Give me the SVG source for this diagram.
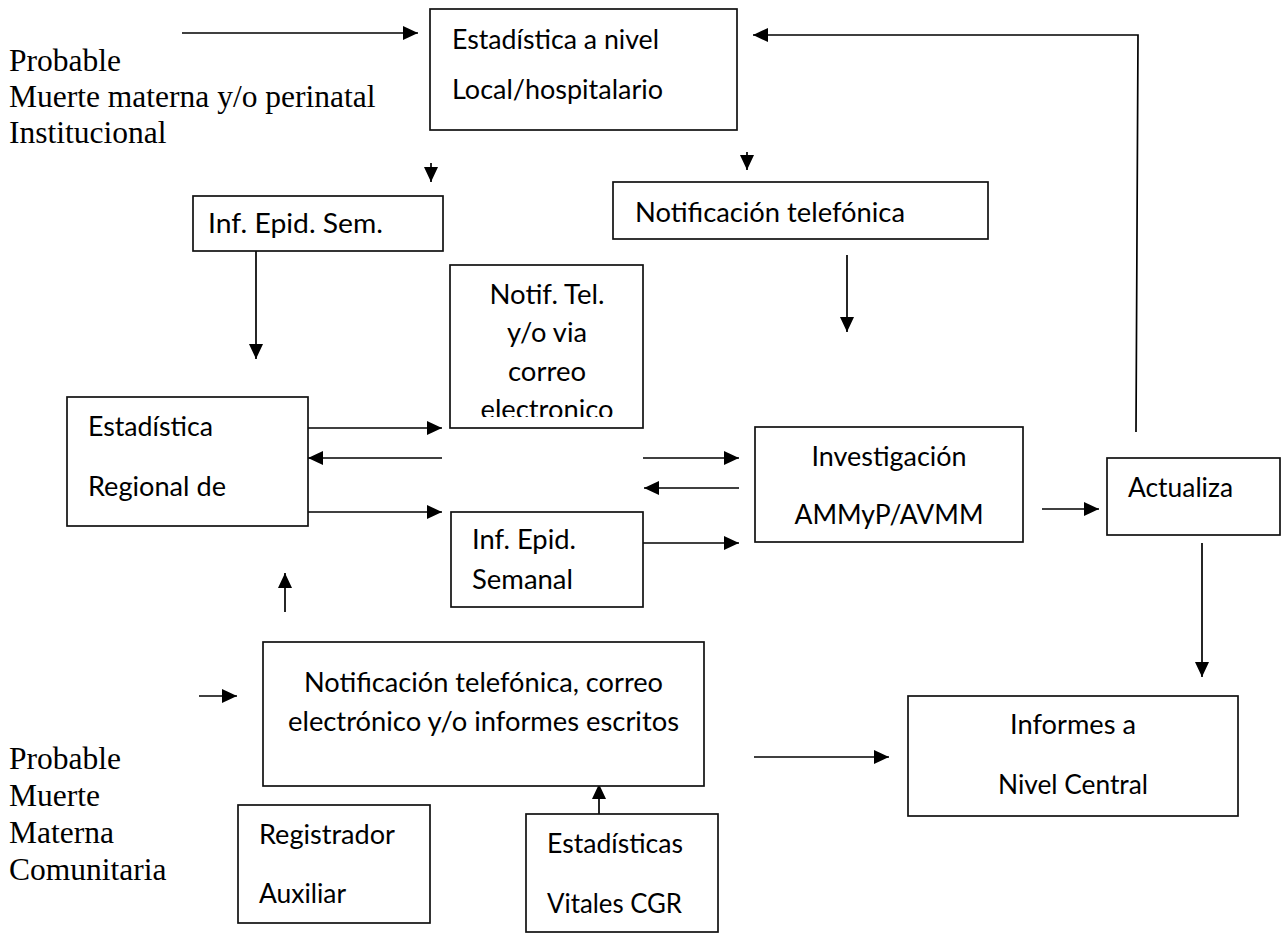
<svg xmlns="http://www.w3.org/2000/svg" width="1284" height="933" viewBox="0 0 1284 933">
<defs>
<style>
.box{fill:#fff;stroke:#111;stroke-width:1.7}
.t{font-family:Lato,"Open Sans","Liberation Sans",sans-serif;font-size:27px;fill:#000}
.m{text-anchor:middle}
.serif{font-family:"Liberation Serif","Times New Roman",serif;font-size:31.5px;fill:#000}
.c{fill:none;stroke:#000;stroke-width:1.7;marker-end:url(#ah)}
</style>
<marker id="ah" viewBox="0 0 15 14" refX="15" refY="7" markerWidth="15" markerHeight="14" markerUnits="userSpaceOnUse" orient="auto">
<path d="M0,0 L15,7 L0,14 Z" fill="#000"/>
</marker>
<clipPath id="clipB4" clipPathUnits="userSpaceOnUse"><rect x="450" y="265" width="193" height="152"/></clipPath>
</defs>
<rect width="1284" height="933" fill="#fff"/>

<g id="labels">
<text class="serif" x="9" y="71">Probable</text>
<text class="serif" x="9" y="107">Muerte materna y/o perinatal</text>
<text class="serif" x="9" y="143">Institucional</text>
<text class="serif" x="9" y="769">Probable</text>
<text class="serif" x="9" y="806">Muerte</text>
<text class="serif" x="9" y="843">Materna</text>
<text class="serif" x="9" y="880">Comunitaria</text>
</g>

<g id="connectors">
<line class="c" x1="182" y1="33" x2="418" y2="33"/>
<polyline class="c" points="1136,432 1138,35 753,35"/>
<line class="c" x1="431" y1="163" x2="431" y2="182"/>
<line class="c" x1="747" y1="152" x2="747" y2="170"/>
<line class="c" x1="256" y1="251" x2="256" y2="359"/>
<line class="c" x1="847" y1="255" x2="847" y2="332"/>
<line class="c" x1="308" y1="428" x2="442" y2="428"/>
<line class="c" x1="442" y1="458" x2="308" y2="458"/>
<line class="c" x1="308" y1="512" x2="442" y2="512"/>
<line class="c" x1="643" y1="458" x2="739" y2="458"/>
<line class="c" x1="739" y1="488" x2="644" y2="488"/>
<line class="c" x1="643" y1="543" x2="739" y2="543"/>
<line class="c" x1="1042" y1="509" x2="1099" y2="509"/>
<line class="c" x1="1202" y1="543" x2="1202" y2="677"/>
<line class="c" x1="754" y1="757" x2="889" y2="757"/>
<line class="c" x1="199" y1="696" x2="237" y2="696"/>
<line class="c" x1="285" y1="612" x2="285" y2="573"/>
<line class="c" x1="599" y1="814" x2="599" y2="784"/>
</g>

<g id="n-local">
<rect class="box" x="430" y="9" width="307" height="121"/>
<text class="t" x="452" y="49" textLength="207" lengthAdjust="spacingAndGlyphs">Estadística a nivel</text>
<text class="t" x="452" y="99" textLength="211" lengthAdjust="spacingAndGlyphs">Local/hospitalario</text>
</g>

<g id="n-infsem">
<rect class="box" x="193" y="196" width="250" height="55"/>
<text class="t" x="208" y="233" textLength="175" lengthAdjust="spacingAndGlyphs">Inf. Epid. Sem.</text>
</g>

<g id="n-notiftel">
<rect class="box" x="613" y="182" width="375" height="57"/>
<text class="t" x="635" y="222" textLength="270" lengthAdjust="spacingAndGlyphs">Notificación telefónica</text>
</g>

<g id="n-notifmail">
<rect class="box" x="450" y="265" width="193" height="163"/>
<g clip-path="url(#clipB4)">
<text class="t m" x="547" y="304" textLength="115" lengthAdjust="spacingAndGlyphs">Notif. Tel.</text>
<text class="t m" x="547" y="342" textLength="80" lengthAdjust="spacingAndGlyphs">y/o via</text>
<text class="t m" x="547" y="381" textLength="78" lengthAdjust="spacingAndGlyphs">correo</text>
<text class="t m" x="547" y="419" textLength="133" lengthAdjust="spacingAndGlyphs">electronico</text>
</g>
</g>

<g id="n-regional">
<rect class="box" x="67" y="397" width="241" height="129"/>
<text class="t" x="88" y="436" textLength="125" lengthAdjust="spacingAndGlyphs">Estadística</text>
<text class="t" x="88" y="496" textLength="138" lengthAdjust="spacingAndGlyphs">Regional de</text>
</g>

<g id="n-infsemanal">
<rect class="box" x="451" y="512" width="192" height="95"/>
<text class="t" x="472" y="549" textLength="104" lengthAdjust="spacingAndGlyphs">Inf. Epid.</text>
<text class="t" x="472" y="589" textLength="101" lengthAdjust="spacingAndGlyphs">Semanal</text>
</g>

<g id="n-investigacion">
<rect class="box" x="755" y="427" width="268" height="115"/>
<text class="t m" x="889" y="466" textLength="155" lengthAdjust="spacingAndGlyphs">Investigación</text>
<text class="t m" x="889" y="524" textLength="189" lengthAdjust="spacingAndGlyphs">AMMyP/AVMM</text>
</g>

<g id="n-actualiza">
<rect class="box" x="1107" y="458" width="173" height="77"/>
<text class="t" x="1128" y="497" textLength="105" lengthAdjust="spacingAndGlyphs">Actualiza</text>
</g>

<g id="n-informes">
<rect class="box" x="908" y="696" width="330" height="120"/>
<text class="t m" x="1073" y="734" textLength="126" lengthAdjust="spacingAndGlyphs">Informes a</text>
<text class="t m" x="1073" y="794" textLength="150" lengthAdjust="spacingAndGlyphs">Nivel Central</text>
</g>

<g id="n-notifcom">
<rect class="box" x="263" y="642" width="441" height="144"/>
<text class="t m" x="483.5" y="692" textLength="359" lengthAdjust="spacingAndGlyphs">Notificación telefónica, correo</text>
<text class="t m" x="483.5" y="731" textLength="391" lengthAdjust="spacingAndGlyphs">electrónico y/o informes escritos</text>
</g>

<g id="n-registrador">
<rect class="box" x="238" y="805" width="192" height="118"/>
<text class="t" x="259" y="844" textLength="136" lengthAdjust="spacingAndGlyphs">Registrador</text>
<text class="t" x="259" y="903" textLength="87" lengthAdjust="spacingAndGlyphs">Auxiliar</text>
</g>

<g id="n-vitales">
<rect class="box" x="526" y="814" width="192" height="118"/>
<text class="t" x="547" y="853" textLength="136" lengthAdjust="spacingAndGlyphs">Estadísticas</text>
<text class="t" x="547" y="913" textLength="135" lengthAdjust="spacingAndGlyphs">Vitales CGR</text>
</g>
</svg>
